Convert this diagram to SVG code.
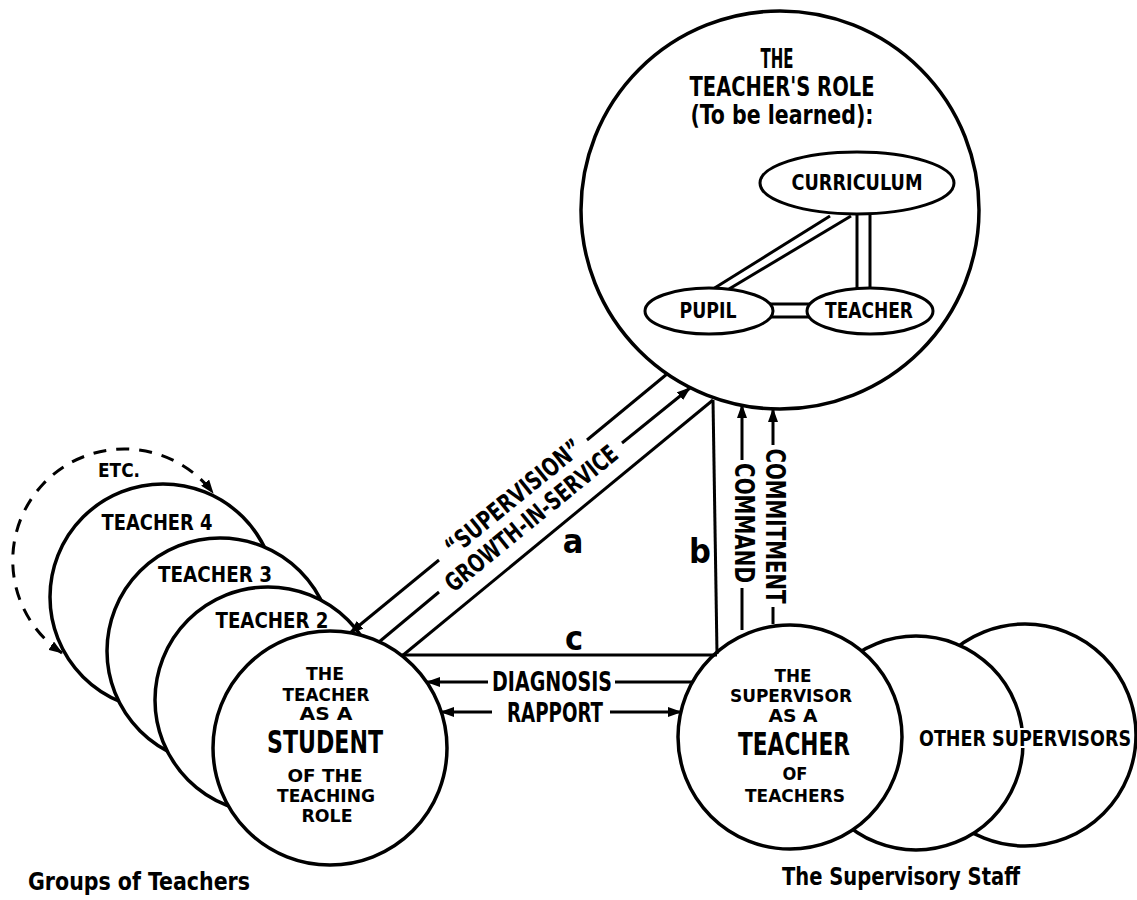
<svg xmlns="http://www.w3.org/2000/svg" width="1137" height="900" viewBox="0 0 1137 900">
<style>
.c{fill:#fff;stroke:#000;stroke-width:3.5}
.e{fill:#fff;stroke:#000;stroke-width:3}
.l{stroke:#000;stroke-width:3;fill:none}
.t{font-family:'Liberation Sans Narrow','DejaVu Sans Condensed','Liberation Sans',sans-serif;font-weight:bold;fill:#000;text-anchor:middle}
.s{font-size:18px}
.h{paint-order:stroke;stroke:#fff;stroke-width:4px}
</style>
<defs>
<marker id="ah" viewBox="0 0 14 10" refX="13" refY="5" markerWidth="14" markerHeight="10" markerUnits="userSpaceOnUse" orient="auto-start-reverse">
<path d="M0,0 L14,5 L0,10 z" fill="#000"/>
</marker>
</defs>
<rect width="1137" height="900" fill="#fff"/>

<g id="teacher-group">
<path id="etc" d="M62,653 A111.5,111.5 0 1 1 213,493" class="l" stroke-dasharray="13,10" marker-start="url(#ah)" marker-end="url(#ah)"/>
<text class="t" x="119" y="477" font-size="20" textLength="42" lengthAdjust="spacingAndGlyphs">ETC.</text>
<g id="teacher4"><circle class="c" cx="163" cy="597" r="113"/>
<text class="t" x="157" y="530" font-size="21" textLength="111" lengthAdjust="spacingAndGlyphs">TEACHER 4</text></g>
<g id="teacher3"><circle class="c" cx="220" cy="651" r="113"/>
<text class="t" x="215" y="582" font-size="21" textLength="114" lengthAdjust="spacingAndGlyphs">TEACHER 3</text></g>
<g id="teacher2"><circle class="c" cx="268" cy="700" r="113"/>
<text class="t" x="272" y="628" font-size="21" textLength="113" lengthAdjust="spacingAndGlyphs">TEACHER 2</text></g>
<g id="student"><circle class="c" cx="330" cy="748" r="117"/>
<text class="t s" x="325" y="680" textLength="38" lengthAdjust="spacingAndGlyphs">THE</text>
<text class="t s" x="326" y="701" textLength="87" lengthAdjust="spacingAndGlyphs">TEACHER</text>
<text class="t s" x="326" y="720" textLength="53" lengthAdjust="spacingAndGlyphs">AS A</text>
<text class="t" x="325" y="753" font-size="32" textLength="116" lengthAdjust="spacingAndGlyphs">STUDENT</text>
<text class="t s" x="325" y="782" textLength="75" lengthAdjust="spacingAndGlyphs">OF THE</text>
<text class="t s" x="326" y="802" textLength="98" lengthAdjust="spacingAndGlyphs">TEACHING</text>
<text class="t s" x="327" y="822" textLength="51" lengthAdjust="spacingAndGlyphs">ROLE</text></g>
<text class="t" x="139" y="890" font-size="24" textLength="222" lengthAdjust="spacingAndGlyphs">Groups of Teachers</text>
</g>

<g id="supervisory-staff">
<g id="other2"><circle class="c" cx="1025" cy="735" r="111"/></g>
<g id="other1"><circle class="c" cx="916" cy="743" r="107"/></g>
<text class="t h" x="1025" y="746" font-size="22" textLength="212" lengthAdjust="spacingAndGlyphs">OTHER SUPERVISORS</text>
<g id="supervisor"><circle class="c" cx="790" cy="737" r="112"/>
<text class="t s" x="793" y="682" textLength="37" lengthAdjust="spacingAndGlyphs">THE</text>
<text class="t s" x="791" y="702" textLength="122" lengthAdjust="spacingAndGlyphs">SUPERVISOR</text>
<text class="t s" x="793" y="722" textLength="49" lengthAdjust="spacingAndGlyphs">AS A</text>
<text class="t" x="794" y="755" font-size="32" textLength="112" lengthAdjust="spacingAndGlyphs">TEACHER</text>
<text class="t s" x="795" y="780" textLength="25" lengthAdjust="spacingAndGlyphs">OF</text>
<text class="t s" x="795" y="802" textLength="100" lengthAdjust="spacingAndGlyphs">TEACHERS</text></g>
<text class="t" x="901" y="885" font-size="24" textLength="238" lengthAdjust="spacingAndGlyphs">The Supervisory Staff</text>
</g>

<g id="teachers-role">
<circle class="c" cx="780" cy="210" r="199"/>
<text class="t" x="777" y="68" font-size="26" textLength="33" lengthAdjust="spacingAndGlyphs">THE</text>
<text class="t" x="782" y="96" font-size="26" textLength="185" lengthAdjust="spacingAndGlyphs">TEACHER'S ROLE</text>
<text class="t" x="782" y="124" font-size="26" textLength="183" lengthAdjust="spacingAndGlyphs">(To be learned):</text>
<g id="inner-links">
<line class="l" x1="830" y1="216" x2="713" y2="289"/>
<line class="l" x1="851" y1="216" x2="729" y2="289"/>
<line class="l" x1="857" y1="213" x2="857" y2="289"/>
<line class="l" x1="870" y1="213" x2="870" y2="289"/>
<line class="l" x1="770" y1="304" x2="810" y2="304"/>
<line class="l" x1="770" y1="317" x2="810" y2="317"/>
</g>
<g id="curriculum"><ellipse class="e" cx="857" cy="183" rx="97" ry="31"/>
<text class="t" x="857" y="190" font-size="22" textLength="131" lengthAdjust="spacingAndGlyphs">CURRICULUM</text></g>
<g id="pupil"><ellipse class="e" cx="709" cy="311" rx="64" ry="23"/>
<text class="t" x="708" y="318" font-size="21" textLength="57" lengthAdjust="spacingAndGlyphs">PUPIL</text></g>
<g id="teacher-inner"><ellipse class="e" cx="870" cy="311" rx="63" ry="23"/>
<text class="t" x="869" y="318" font-size="21" textLength="88" lengthAdjust="spacingAndGlyphs">TEACHER</text></g>
</g>

<g id="connectors">
<line class="l" x1="667" y1="374" x2="587" y2="440"/>
<line class="l" x1="439" y1="560" x2="350" y2="633" marker-end="url(#ah)"/>
<text class="t" font-size="25" textLength="168" lengthAdjust="spacingAndGlyphs" transform="translate(513,497) rotate(-39.2)" x="0" y="9">“SUPERVISION”</text>
<line class="l" x1="379" y1="642" x2="439" y2="592"/>
<line class="l" x1="622" y1="443" x2="690" y2="388" marker-end="url(#ah)"/>
<text class="t" font-size="25" textLength="215" lengthAdjust="spacingAndGlyphs" transform="translate(531,518) rotate(-39.2)" x="0" y="9">GROWTH-IN-SERVICE</text>
<line class="l" x1="402" y1="656" x2="713" y2="400"/>
<line class="l" x1="713" y1="400" x2="717" y2="654"/>
<line class="l" x1="402" y1="655" x2="717" y2="655"/>
<text class="t" x="573" y="553" font-size="34">a</text>
<text class="t" x="700" y="563" font-size="34">b</text>
<text class="t" x="574" y="650" font-size="34">c</text>
<line class="l" x1="488" y1="682" x2="427" y2="682" marker-end="url(#ah)"/>
<line class="l" x1="615" y1="682" x2="692" y2="682"/>
<text class="t" x="552" y="691" font-size="27" textLength="120" lengthAdjust="spacingAndGlyphs">DIAGNOSIS</text>
<line class="l" x1="492" y1="712" x2="441" y2="712" marker-end="url(#ah)"/>
<line class="l" x1="610" y1="712" x2="681" y2="712" marker-end="url(#ah)"/>
<text class="t" x="555" y="722" font-size="27" textLength="96" lengthAdjust="spacingAndGlyphs">RAPPORT</text>
<line class="l" x1="742" y1="630" x2="742" y2="588"/>
<line class="l" x1="742" y1="460" x2="742" y2="405" marker-end="url(#ah)"/>
<text class="t" font-size="27" textLength="120" lengthAdjust="spacingAndGlyphs" transform="translate(745,523) rotate(90)" x="0" y="10">COMMAND</text>
<line class="l" x1="773" y1="624" x2="773" y2="607"/>
<line class="l" x1="773" y1="445" x2="773" y2="409" marker-end="url(#ah)"/>
<text class="t" font-size="27" textLength="155" lengthAdjust="spacingAndGlyphs" transform="translate(776,526) rotate(90)" x="0" y="10">COMMITMENT</text>
</g>
</svg>
